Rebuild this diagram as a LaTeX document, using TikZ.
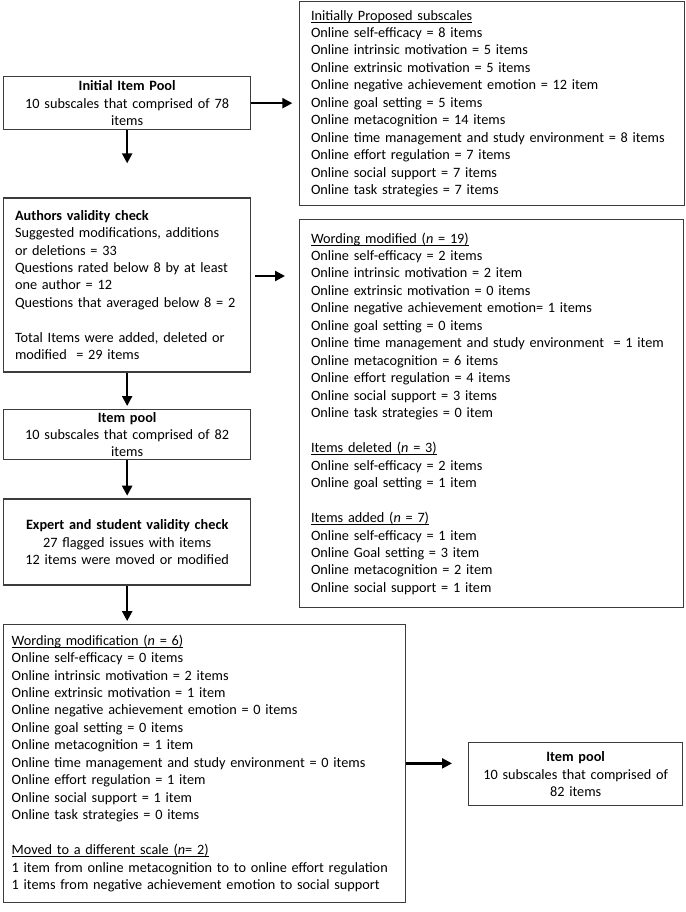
\documentclass[tikz,border=0pt]{standalone}
\usepackage{fontspec}
\setmainfont{Carlito}
\usetikzlibrary{arrows.meta,positioning}
\definecolor{boxline}{RGB}{60,60,60}
\newcommand{\underhead}[1]{\leavevmode\setbox0\hbox{#1}\rlap{\rule[-1.7pt]{\wd0}{0.55pt}}\box0}

\begin{document}
\begin{tikzpicture}[
 x=0.75pt,y=-0.75pt,
 every node/.style={font=\fontsize{10.7pt}{13.1pt}\selectfont},
 box/.style={draw=boxline,line width=1pt,inner xsep=8.5pt,inner ysep=2pt,text width=168.25pt},
 listbox/.style={box,align=left,anchor=north west},
 arr/.style={-{Triangle[length=7.5pt,width=7.5pt]},line width=1.7pt,shorten >=2pt}
]
\useasboundingbox (0,0) rectangle (685,912);
\node[box,align=center,minimum height=39.75pt,anchor=north west] (pool0) at (3,76) {\textbf{Initial Item Pool}\\10 subscales that comprised of 78\\items};
\node[box,align=left,minimum height=130.5pt,below=50.25pt of pool0] (authors) {\textbf{Authors validity check}\\Suggested modifications, additions\\or deletions = 33\\Questions rated below 8 by at least\\one author = 12\\Questions that averaged below 8 = 2\\[13.1pt]Total Items were added, deleted or\\modified\ \ = 29 items};
\node[box,align=center,minimum height=37.5pt,below=27pt of authors] (pool1) {\textbf{Item pool}\\10 subscales that comprised of 82\\items};
\node[box,align=center,minimum height=64.5pt,below=28.5pt of pool1] (expert) {\textbf{Expert and student validity check}\\27 flagged issues with items\\12 items were moved or modified};
\node[box,align=left,text width=289.5pt,inner xsep=6pt,minimum height=208.5pt,below=28.5pt of expert.south west,anchor=north west] (reword) {\underhead{Wording modification (\textit{n} = 6)}\\Online self-efficacy = 0 items\\Online intrinsic motivation = 2 items\\Online extrinsic motivation = 1 item\\Online negative achievement emotion = 0 items\\Online goal setting = 0 items\\Online metacognition = 1 item\\Online time management and study environment = 0 items\\Online effort regulation = 1 item\\Online social support = 1 item\\Online task strategies = 0 items\\[13.1pt]\underhead{Moved to a different scale (\textit{n}= 2)}\\1 item from online metacognition to to online effort regulation\\1 items from negative achievement emotion to social support};
\node[listbox,text width=271.75pt,minimum height=153pt] (subscales) at (299,1) {\underhead{Initially Proposed subscales}\\Online self-efficacy = 8 items\\Online intrinsic motivation = 5 items\\Online extrinsic motivation = 5 items\\Online negative achievement emotion = 12 item\\Online goal setting = 5 items\\Online metacognition = 14 items\\Online time management and study environment = 8 items\\Online effort regulation = 7 items\\Online social support = 7 items\\Online task strategies = 7 items};
\node[listbox,text width=271pt,minimum height=291pt] (changes) at (299,219) {\underhead{Wording modified (\textit{n} = 19)}\\Online self-efficacy = 2 items\\Online intrinsic motivation = 2 item\\Online extrinsic motivation = 0 items\\Online negative achievement emotion= 1 items\\Online goal setting = 0 items\\Online time management and study environment\ \ = 1 item\\Online metacognition = 6 items\\Online effort regulation = 4 items\\Online social support = 3 items\\Online task strategies = 0 item\\[13.1pt]\underhead{Items deleted (\textit{n} = 3)}\\Online self-efficacy = 2 items\\Online goal setting = 1 item\\[13.1pt]\underhead{Items added (\textit{n} = 7)}\\Online self-efficacy = 1 item\\Online Goal setting = 3 item\\Online metacognition = 2 item\\Online social support = 1 item};
\node[box,align=center,text width=150pt,inner xsep=5.25pt,minimum height=47.25pt,anchor=north west] (pool2) at (468,742) {\textbf{Item pool}\\10 subscales that comprised of\\82 items};
\draw[arr,shorten >=5pt] (pool0.east) -- (pool0.east -| subscales.west);
\draw[arr,shorten <=3pt,shorten >=10.5pt] ([yshift=6.75pt]authors.east) -- ([yshift=6.75pt]authors.east -| changes.west);
\draw[arr,shorten >=25.5pt] (pool0) -- (authors);
\draw[arr] (authors) -- (pool1);
\draw[arr] (pool1) -- (expert);
\draw[arr] (expert) -- (expert.south |- reword.north);
\draw[arr,shorten >=12pt] (reword.east) -- (reword.east -| pool2.west);
\end{tikzpicture}
\end{document}
